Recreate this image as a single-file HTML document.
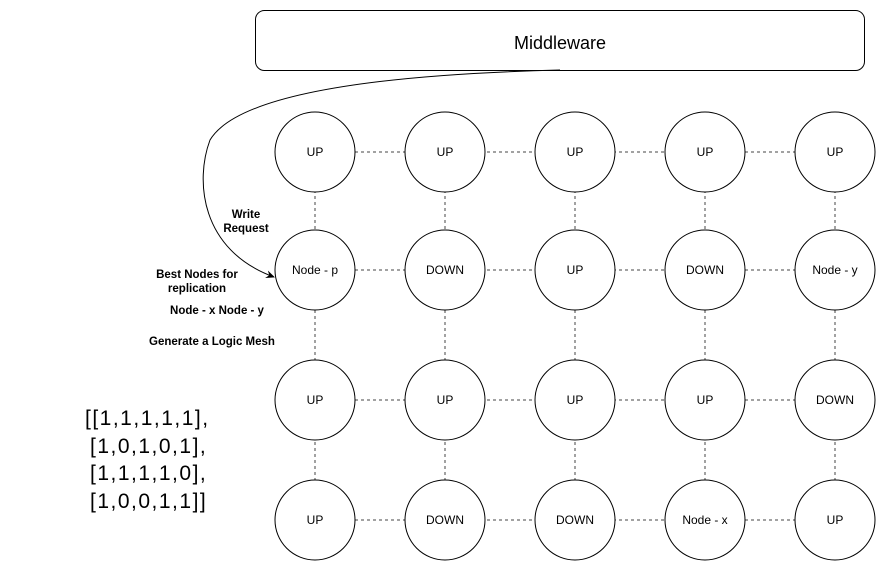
<!DOCTYPE html>
<html><head><meta charset="utf-8"><style>
body{margin:0;background:#fff;width:886px;height:571px;overflow:hidden}
svg{display:block}
text{font-family:"Liberation Sans",Arial,sans-serif;fill:#000}
</style></head><body>
<svg width="886" height="571" viewBox="0 0 886 571">
<defs><marker id="a" markerWidth="10" markerHeight="10" refX="8" refY="5" orient="auto" markerUnits="userSpaceOnUse"><path d="M0,1 L9,5 L0,9 L3,5 Z" fill="#000"/></marker></defs>
<rect x="255.5" y="10.5" width="609" height="60" rx="9" fill="#fff" stroke="#000"/>
<text x="560" y="49" font-size="18" text-anchor="middle">Middleware</text>
<path d="M560,70 C400,74 240,90 210,140 C195,180 200,250 274,277" fill="none" stroke="#000" stroke-width="1" marker-end="url(#a)"/>
<g stroke="#444" stroke-dasharray="3,3" stroke-width="1">
<line x1="355" y1="152" x2="795" y2="152"/><line x1="355" y1="270" x2="795" y2="270"/>
<line x1="355" y1="400" x2="795" y2="400"/><line x1="355" y1="520" x2="795" y2="520"/>
<line x1="315" y1="190" x2="315" y2="480"/><line x1="445" y1="190" x2="445" y2="480"/>
<line x1="575" y1="190" x2="575" y2="480"/><line x1="705" y1="190" x2="705" y2="480"/>
<line x1="835" y1="190" x2="835" y2="480"/>
</g>
<g fill="#fff" stroke="#000" stroke-width="1">
<circle cx="315" cy="152" r="40"/><circle cx="445" cy="152" r="40"/><circle cx="575" cy="152" r="40"/><circle cx="705" cy="152" r="40"/><circle cx="835" cy="152" r="40"/>
<circle cx="315" cy="270" r="40"/><circle cx="445" cy="270" r="40"/><circle cx="575" cy="270" r="40"/><circle cx="705" cy="270" r="40"/><circle cx="835" cy="270" r="40"/>
<circle cx="315" cy="400" r="40"/><circle cx="445" cy="400" r="40"/><circle cx="575" cy="400" r="40"/><circle cx="705" cy="400" r="40"/><circle cx="835" cy="400" r="40"/>
<circle cx="315" cy="520" r="40"/><circle cx="445" cy="520" r="40"/><circle cx="575" cy="520" r="40"/><circle cx="705" cy="520" r="40"/><circle cx="835" cy="520" r="40"/>
</g>
<g font-size="12" text-anchor="middle">
<text x="315" y="156">UP</text><text x="445" y="156">UP</text><text x="575" y="156">UP</text><text x="705" y="156">UP</text><text x="835" y="156">UP</text>
<text x="315" y="274">Node - p</text><text x="445" y="274">DOWN</text><text x="575" y="274">UP</text><text x="705" y="274">DOWN</text><text x="835" y="274">Node - y</text>
<text x="315" y="404">UP</text><text x="445" y="404">UP</text><text x="575" y="404">UP</text><text x="705" y="404">UP</text><text x="835" y="404">DOWN</text>
<text x="315" y="524">UP</text><text x="445" y="524">DOWN</text><text x="575" y="524">DOWN</text><text x="705" y="524">Node - x</text><text x="835" y="524">UP</text>
</g>
<g font-size="11.5" font-weight="bold" text-anchor="middle">
<text x="246" y="218">Write</text><text x="246" y="232">Request</text>
<text x="197" y="278">Best Nodes for</text><text x="197" y="292">replication</text>
<text x="217" y="314">Node - x Node - y</text>
<text x="212" y="345">Generate a Logic Mesh</text>
</g>
<g font-size="21" letter-spacing="1.5">
<text x="85" y="425">[[1,1,1,1,1],</text>
<text x="90" y="453">[1,0,1,0,1],</text>
<text x="90" y="480">[1,1,1,1,0],</text>
<text x="90" y="508">[1,0,0,1,1]]</text>
</g>
</svg>
</body></html>
